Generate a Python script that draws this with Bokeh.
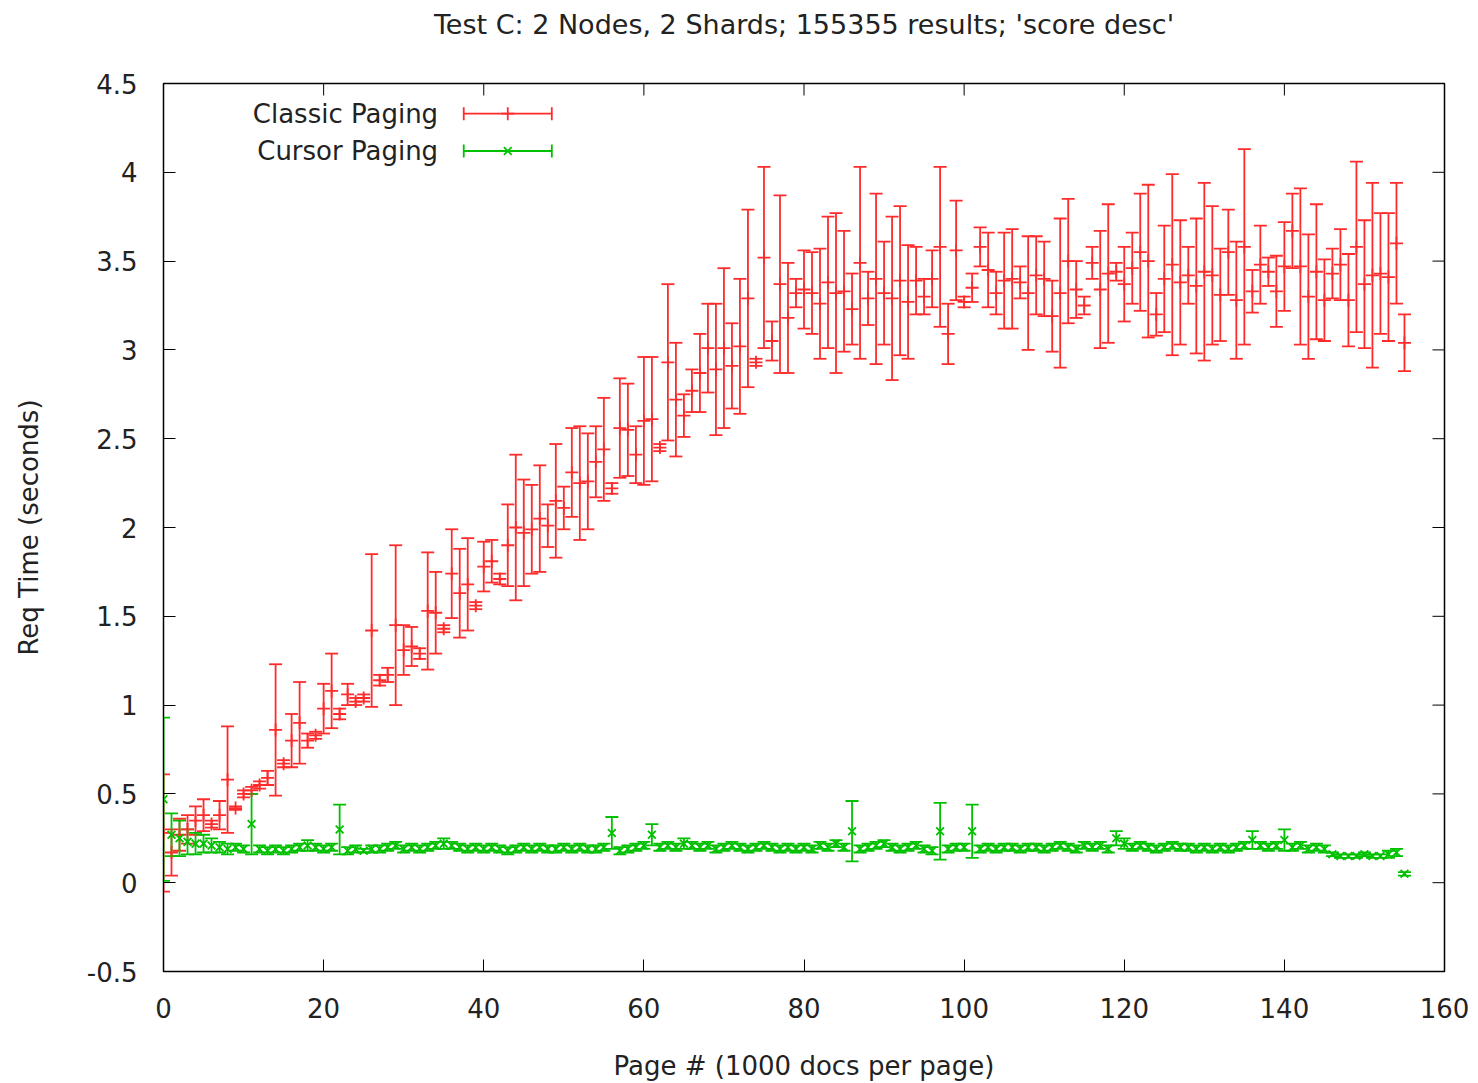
from bokeh.plotting import figure
from bokeh.models import (ColumnDataSource, Whisker, TeeHead, Range1d, FixedTicker,
                          LinearAxis)
from bokeh.core.properties import value
from bokeh.embed import file_html
from bokeh.resources import INLINE

# ---------------- data ----------------
pages = list(range(156))

classic_mean = [0.28,0.17,0.27,0.30,0.35,0.38,0.33,0.38,0.58,0.42,
0.50,0.52,0.55,0.59,0.86,0.67,0.80,0.90,0.80,0.83,
0.98,1.08,0.95,1.06,1.02,1.04,1.42,1.14,1.17,1.45,
1.31,1.33,1.29,1.53,1.52,1.43,1.74,1.63,1.68,1.56,
1.78,1.81,1.71,1.90,2.00,1.97,1.99,2.05,2.01,2.15,
2.11,2.31,2.25,2.26,2.37,2.44,2.22,2.56,2.55,2.41,
2.60,2.61,2.45,2.93,2.72,2.63,2.77,2.87,3.01,2.89,
3.01,2.91,3.02,3.29,2.93,3.52,3.05,3.37,3.18,3.32,
3.34,3.32,3.26,3.38,3.32,3.33,3.23,3.49,3.29,3.40,
3.32,3.29,3.39,3.27,3.39,3.30,3.40,3.58,3.09,3.56,
3.27,3.35,3.58,3.45,3.32,3.39,3.40,3.38,3.32,3.42,
3.40,3.19,3.32,3.50,3.34,3.25,3.49,3.34,3.43,3.44,
3.37,3.46,3.55,3.50,3.20,3.40,3.48,3.38,3.42,3.36,
3.44,3.42,3.31,3.55,3.28,3.58,3.33,3.48,3.44,3.33,
3.47,3.67,3.47,3.30,3.44,3.28,3.43,3.48,3.28,3.58,
3.37,3.42,3.43,3.41,3.60,3.04]

classic_err = [0.33,0.13,0.09,0.08,0.08,0.09,0.02,0.08,0.30,0.01,
0.02,0.02,0.02,0.04,0.37,0.02,0.15,0.23,0.04,0.02,
0.14,0.21,0.03,0.06,0.02,0.02,0.43,0.03,0.04,0.45,
0.14,0.11,0.03,0.33,0.23,0.02,0.25,0.25,0.26,0.02,
0.14,0.12,0.03,0.23,0.41,0.30,0.25,0.30,0.12,0.32,
0.12,0.25,0.32,0.27,0.20,0.29,0.03,0.28,0.26,0.16,
0.36,0.35,0.02,0.44,0.32,0.12,0.12,0.22,0.25,0.37,
0.45,0.24,0.38,0.50,0.02,0.51,0.11,0.50,0.31,0.08,
0.22,0.23,0.31,0.37,0.45,0.34,0.20,0.54,0.15,0.48,
0.29,0.46,0.42,0.32,0.19,0.10,0.16,0.45,0.17,0.28,
0.03,0.08,0.11,0.21,0.12,0.27,0.28,0.09,0.32,0.22,
0.21,0.20,0.42,0.35,0.16,0.05,0.09,0.33,0.39,0.05,
0.21,0.20,0.33,0.43,0.12,0.30,0.51,0.35,0.16,0.38,
0.50,0.39,0.26,0.24,0.33,0.55,0.12,0.22,0.08,0.20,
0.25,0.21,0.44,0.35,0.38,0.23,0.14,0.20,0.26,0.48,
0.36,0.52,0.34,0.36,0.34,0.16]

cursor_mean = [0.47,0.27,0.25,0.23,0.22,0.22,0.21,0.20,0.19,0.20,
0.19,0.33,0.19,0.18,0.19,0.18,0.19,0.20,0.21,0.20,
0.19,0.20,0.30,0.18,0.19,0.18,0.19,0.19,0.20,0.21,
0.19,0.20,0.19,0.20,0.21,0.22,0.21,0.20,0.19,0.20,
0.19,0.20,0.19,0.18,0.19,0.20,0.19,0.20,0.19,0.19,
0.20,0.19,0.20,0.19,0.19,0.20,0.28,0.18,0.19,0.20,
0.21,0.27,0.20,0.21,0.20,0.22,0.21,0.20,0.21,0.19,
0.20,0.21,0.20,0.19,0.20,0.21,0.20,0.19,0.20,0.19,
0.20,0.19,0.21,0.20,0.22,0.20,0.29,0.19,0.20,0.21,
0.22,0.20,0.19,0.20,0.21,0.19,0.18,0.29,0.19,0.20,
0.20,0.29,0.19,0.20,0.19,0.20,0.20,0.19,0.20,0.20,
0.19,0.20,0.21,0.20,0.19,0.21,0.20,0.21,0.19,0.25,
0.22,0.20,0.21,0.20,0.19,0.20,0.21,0.20,0.20,0.19,
0.20,0.19,0.20,0.19,0.20,0.21,0.24,0.21,0.20,0.21,
0.24,0.20,0.21,0.19,0.20,0.19,0.16,0.15,0.15,0.15,
0.16,0.15,0.15,0.16,0.17,0.05]

cursor_err = [0.46,0.12,0.10,0.07,0.06,0.05,0.04,0.03,0.03,0.02,
0.02,0.17,0.02,0.02,0.02,0.02,0.02,0.02,0.03,0.02,
0.02,0.02,0.14,0.02,0.02,0.01,0.02,0.02,0.02,0.02,
0.02,0.02,0.02,0.02,0.02,0.03,0.02,0.02,0.02,0.02,
0.02,0.02,0.02,0.02,0.02,0.02,0.02,0.02,0.02,0.02,
0.02,0.02,0.02,0.02,0.02,0.02,0.09,0.02,0.02,0.02,
0.02,0.06,0.02,0.02,0.02,0.03,0.02,0.02,0.02,0.02,
0.02,0.02,0.02,0.02,0.02,0.02,0.02,0.02,0.02,0.02,
0.02,0.02,0.02,0.02,0.02,0.02,0.17,0.02,0.02,0.02,
0.02,0.02,0.02,0.02,0.02,0.02,0.02,0.16,0.02,0.02,
0.02,0.15,0.02,0.02,0.02,0.02,0.02,0.02,0.02,0.02,
0.02,0.02,0.02,0.02,0.02,0.02,0.02,0.02,0.02,0.04,
0.03,0.02,0.02,0.02,0.02,0.02,0.02,0.02,0.02,0.02,
0.02,0.02,0.02,0.02,0.02,0.02,0.05,0.02,0.02,0.02,
0.06,0.02,0.02,0.02,0.02,0.02,0.01,0.01,0.01,0.01,
0.01,0.01,0.01,0.02,0.02,0.01]

x_ticks = [0, 20, 40, 60, 80, 100, 120, 140, 160]
y_ticks = [-0.5, 0, 0.5, 1, 1.5, 2, 2.5, 3, 3.5, 4, 4.5]
y_tick_labels = ["-0.5", "0", "0.5", "1", "1.5", "2", "2.5", "3", "3.5", "4", "4.5"]

title_text = "Test C: 2 Nodes, 2 Shards; 155355 results; 'score desc'"
series_names = ["Classic Paging", "Cursor Paging"]

# ---------------- style ----------------
FONT = "DejaVu Sans"
FS = "26px"
TXT = "#222222"
RED = "#ff2a2a"
GREEN = "#00c000"
LW = 1.8
X_MIN, X_MAX, Y_MIN, Y_MAX = 0, 160, -0.5, 4.5
W, H = 1478, 1083
B_LEFT, B_RIGHT, B_TOP, B_BOTTOM = 163, 34, 83, 110
TICK_PX = 12

p = figure(width=W, height=H, output_backend="svg", toolbar_location=None,
           x_range=Range1d(X_MIN, X_MAX), y_range=Range1d(Y_MIN, Y_MAX),
           min_border_left=B_LEFT, min_border_right=B_RIGHT, min_border_top=B_TOP,
           min_border_bottom=B_BOTTOM)

p.grid.visible = False
p.outline_line_color = "black"
p.outline_line_width = 1.5
p.background_fill_color = "white"
p.border_fill_color = "white"

for ax in (p.xaxis[0], p.yaxis[0]):
    ax.major_tick_in = TICK_PX
    ax.major_tick_out = 0
    ax.minor_tick_line_color = None
    ax.axis_line_color = "black"
    ax.major_tick_line_color = "black"
    ax.major_label_text_font = FONT
    ax.major_label_text_font_size = FS
    ax.major_label_text_color = TXT
    ax.axis_label_text_font = FONT
    ax.axis_label_text_font_size = FS
    ax.axis_label_text_font_style = "normal"
    ax.axis_label_text_color = TXT

p.xaxis.ticker = FixedTicker(ticks=x_ticks)
p.yaxis.ticker = FixedTicker(ticks=y_ticks)
p.yaxis.major_label_overrides = {t: l for t, l in zip(y_ticks, y_tick_labels)}
p.xaxis.axis_label = "Page # (1000 docs per page)"
p.yaxis.axis_label = "Req Time (seconds)"
p.xaxis.major_label_standoff = 26
p.yaxis.major_label_standoff = 26
p.xaxis.axis_label_standoff = 30
p.yaxis.axis_label_standoff = 40

# title: carried by a tick-less axis above the frame, centred over it
title_axis = LinearAxis(ticker=FixedTicker(ticks=[]), axis_label=title_text,
                        axis_line_color=None, major_tick_line_color=None,
                        minor_tick_line_color=None, major_tick_in=0, major_tick_out=0,
                        major_label_standoff=0, axis_label_standoff=44,
                        axis_label_text_font=FONT, axis_label_text_font_size="27px",
                        axis_label_text_font_style="normal", axis_label_text_color=TXT)
p.add_layout(title_axis, "above")

# mirrored inward ticks on top and right edges (gnuplot style)
frame_w = W - B_LEFT - B_RIGHT
frame_h = H - B_TOP - B_BOTTOM
dx_tick = TICK_PX * (X_MAX - X_MIN) / frame_w
dy_tick = TICK_PX * (Y_MAX - Y_MIN) / frame_h
p.segment(x0=x_ticks, x1=x_ticks, y0=[Y_MAX] * len(x_ticks),
          y1=[Y_MAX - dy_tick] * len(x_ticks), line_color="black", line_width=1)
p.segment(x0=[X_MAX] * len(y_ticks), x1=[X_MAX - dx_tick] * len(y_ticks),
          y0=y_ticks, y1=y_ticks, line_color="black", line_width=1)

# ---------------- error bars ----------------
def add_series(mean, err, color, marker, msize):
    src = ColumnDataSource(dict(
        x=pages, y=mean,
        lo=[m - e for m, e in zip(mean, err)],
        hi=[m + e for m, e in zip(mean, err)]))
    w = Whisker(base="x", lower="lo", upper="hi", source=src, dimension="height",
                line_color=color, line_width=LW,
                upper_head=TeeHead(size=13, line_color=color, line_width=LW),
                lower_head=TeeHead(size=13, line_color=color, line_width=LW))
    p.add_layout(w)
    p.scatter("x", "y", source=src, marker=marker, size=msize,
              line_color=color, line_width=LW, fill_color=None)

add_series(classic_mean, classic_err, RED, "cross", 13)
add_series(cursor_mean, cursor_err, GREEN, "x", 11)

# ---------------- legend (gnuplot style: text, then sample) ----------------
leg_y = [4.33, 4.12]
leg_x0, leg_x1, leg_text_x = 37.5, 48.5, 34.3
for name, ly, color, marker, msize in zip(series_names, leg_y, [RED, GREEN],
                                          ["cross", "x"], [13, 11]):
    s = ColumnDataSource(dict(b=[ly], lo=[leg_x0], hi=[leg_x1],
                              mx=[(leg_x0 + leg_x1) / 2], t=[name], tx=[leg_text_x]))
    p.add_layout(Whisker(base="b", lower="lo", upper="hi", source=s, dimension="width",
                         line_color=color, line_width=LW,
                         upper_head=TeeHead(size=13, line_color=color, line_width=LW),
                         lower_head=TeeHead(size=13, line_color=color, line_width=LW)))
    p.scatter("mx", "b", source=s, marker=marker, size=msize, line_color=color,
              line_width=LW, fill_color=None)
    p.text("tx", "b", text="t", source=s, text_align="right", text_baseline="middle",
           text_font=value(FONT), text_font_size=FS, text_color=TXT)

open("out.html", "w").write(file_html(p, INLINE))
